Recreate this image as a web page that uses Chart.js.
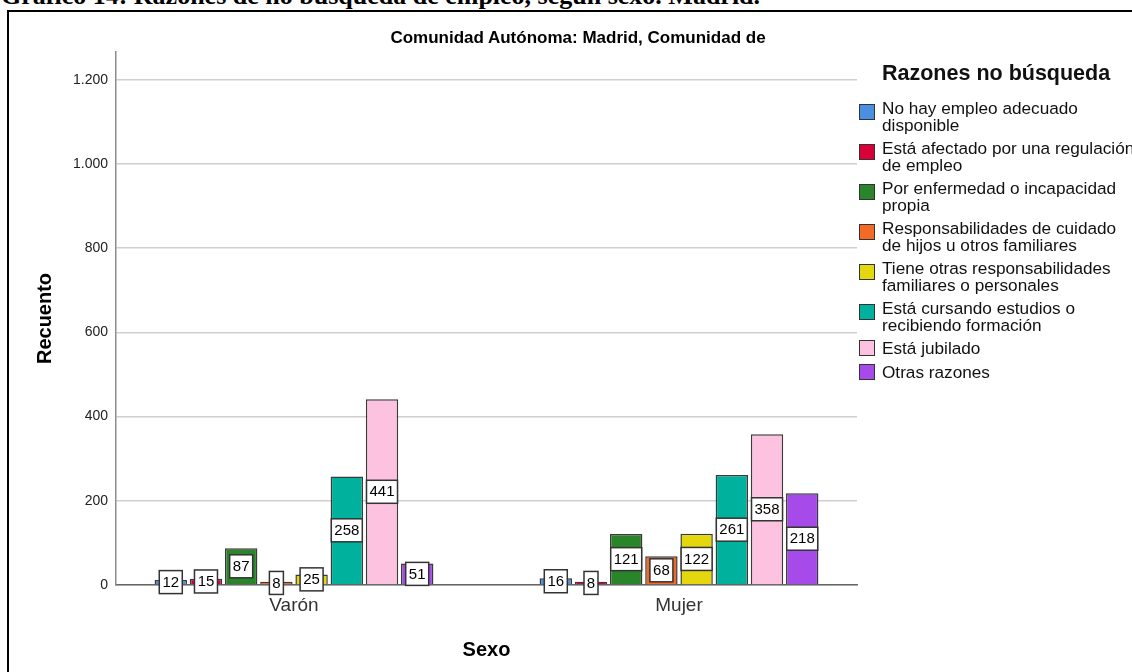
<!DOCTYPE html>
<html lang="es">
<head>
<meta charset="utf-8">
<title>Razones de no búsqueda de empleo, según sexo. Madrid</title>
<script src="https://cdn.jsdelivr.net/npm/chart.js@4.4.1/dist/chart.umd.min.js"></script>
<style>
    html, body { margin: 0; padding: 0; width: 1132px; height: 672px; overflow: hidden; background: #fff; }
    #heading { position: absolute; left: 1px; top: -17px; font: bold 26px/26px "Liberation Serif", "Times New Roman", serif; white-space: nowrap; color: #000; }
    #frame { position: absolute; left: 7px; top: 10px; width: 1200px; height: 800px; border: 2px solid #000; }
    #myChart { position: absolute; left: 0; top: 0; }
    #chartTitle { position: absolute; left: 0; top: 28px; width: 1156px; text-align: center; font: bold 17px/20px "Liberation Sans", Arial, sans-serif; color: #000; white-space: nowrap; }
    #legend { position: absolute; left: 859px; top: 60px; font-family: "Liberation Sans", Arial, sans-serif; color: #111; white-space: nowrap; }
    #legend .title { margin: 0 0 14px 23px; font-size: 21.5px; font-weight: bold; line-height: 26px; }
    #legend .item { position: relative; padding-left: 23px; margin-bottom: 7px; font-size: 17.2px; line-height: 16.5px; }
    #legend .box { position: absolute; left: 0; width: 14px; height: 14px; border: 1.5px solid #333; }
</style>
</head>
<body>
<div id="heading">Gráfico 14: Razones de no búsqueda de empleo, según sexo. Madrid.</div>
<div id="frame"></div>
<canvas id="myChart" width="1132" height="672"></canvas>
<div id="chartTitle">Comunidad Autónoma: Madrid, Comunidad de</div>
<div id="legend"></div>
<script>
const categories = ['Varón', 'Mujer'];
const reasons = [
    ['No hay empleo adecuado', 'disponible'],
    ['Está afectado por una regulación', 'de empleo'],
    ['Por enfermedad o incapacidad', 'propia'],
    ['Responsabilidades de cuidado', 'de hijos u otros familiares'],
    ['Tiene otras responsabilidades', 'familiares o personales'],
    ['Está cursando estudios o', 'recibiendo formación'],
    ['Está jubilado'],
    ['Otras razones']
];
const varonValues = [12, 15, 87, 8, 25, 258, 441, 51];
const mujerValues = [16, 8, 121, 68, 122, 261, 358, 218];
const yTicks = [0, 200, 400, 600, 800, 1000, 1200];
const colors = ['#4a8fe0', '#d80037', '#2a8429', '#f36a25', '#e4d70e', '#00b29d', '#fdc2df', '#a64bea'];

const font = '"Liberation Sans", Arial, sans-serif';

function formatThousands(v) {
    return String(v).replace(/\B(?=(\d{3})+(?!\d))/g, '.');
}

// white boxes with the count, in the middle of each bar
const valueBoxes = {
    id: 'valueBoxes',
    afterDatasetsDraw(chart) {
        const ctx = chart.ctx;
        ctx.save();
        ctx.font = '15px ' + font;
        ctx.textAlign = 'center';
        ctx.textBaseline = 'middle';
        chart.data.datasets.forEach((ds, i) => {
            chart.getDatasetMeta(i).data.forEach((bar, j) => {
                const text = String(ds.data[j].y);
                const w = Math.round(ctx.measureText(text).width) + 6;
                const h = 23;
                const cy = (bar.y + bar.base) / 2;
                ctx.fillStyle = '#fff';
                ctx.fillRect(bar.x - w / 2, cy - h / 2, w, h);
                ctx.strokeStyle = '#333';
                ctx.lineWidth = 1.5;
                ctx.strokeRect(bar.x - w / 2, cy - h / 2, w, h);
                ctx.fillStyle = '#000';
                ctx.fillText(text, bar.x, cy + 0.5);
            });
        });
        ctx.restore();
    }
};

const datasets = reasons.map((lines, i) => ({
    label: lines.join(' '),
    data: [{ x: 0, y: varonValues[i] }, { x: 1, y: mujerValues[i] }],
    backgroundColor: colors[i],
    borderColor: '#3a3a3a',
    borderWidth: 1.5,
    barPercentage: 0.92,
    categoryPercentage: 0.7315
}));

const ctx = document.getElementById('myChart');

const aChart = new Chart(ctx, {
    type: 'bar',
    data: { datasets: datasets },
    options: {
        responsive: false,
        animation: false,
        layout: { padding: { left: 24, right: 275, top: 52, bottom: 0 } },
        plugins: {
            legend: { display: false },
            tooltip: { enabled: false }
        },
        scales: {
            x: {
                type: 'linear',
                offset: false,
                min: -0.4623,
                max: 1.4623,
                afterBuildTicks: s => { s.ticks = categories.map((c, i) => ({ value: i })); },
                afterFit: s => { s.height = 87; },
                ticks: {
                    callback: v => categories[v],
                    color: '#333',
                    font: { family: font, size: 19 },
                    padding: 9,
                    maxRotation: 0
                },
                grid: { display: false, drawTicks: false, offset: false },
                border: { display: true, color: '#666', width: 1.5 },
                title: {
                    display: true,
                    text: 'Sexo',
                    color: '#000',
                    font: { family: font, size: 20, weight: 'bold' },
                    padding: { bottom: 10 }
                }
            },
            y: {
                min: 0,
                max: 1266,
                afterBuildTicks: s => { s.ticks = yTicks.map(v => ({ value: v })); },
                afterFit: s => { s.width = 92; },
                ticks: {
                    callback: v => formatThousands(v),
                    color: '#222',
                    font: { family: font, size: 14 },
                    padding: 8
                },
                grid: { color: '#cfcfcf', lineWidth: 1.5, drawTicks: false },
                border: { display: true, color: '#8c8c8c', width: 1.5 },
                title: {
                    display: true,
                    text: 'Recuento',
                    color: '#000',
                    font: { family: font, size: 20, weight: 'bold' },
                    padding: { top: 9 }
                }
            }
        }
    },
    plugins: [valueBoxes]
});

// legend in html, taken from the chart datasets
const legend = document.getElementById('legend');
const legendTitle = document.createElement('div');
legendTitle.className = 'title';
legendTitle.textContent = 'Razones no búsqueda';
legend.appendChild(legendTitle);

aChart.data.datasets.forEach((ds, i) => {
    const item = document.createElement('div');
    item.className = 'item';
    const box = document.createElement('span');
    box.className = 'box';
    box.style.background = ds.backgroundColor;
    box.style.top = reasons[i].length > 1 ? '4px' : '0px';
    item.appendChild(box);
    reasons[i].forEach(line => {
        const el = document.createElement('div');
        el.textContent = line;
        item.appendChild(el);
    });
    legend.appendChild(item);
});
</script>
</body>
</html>
